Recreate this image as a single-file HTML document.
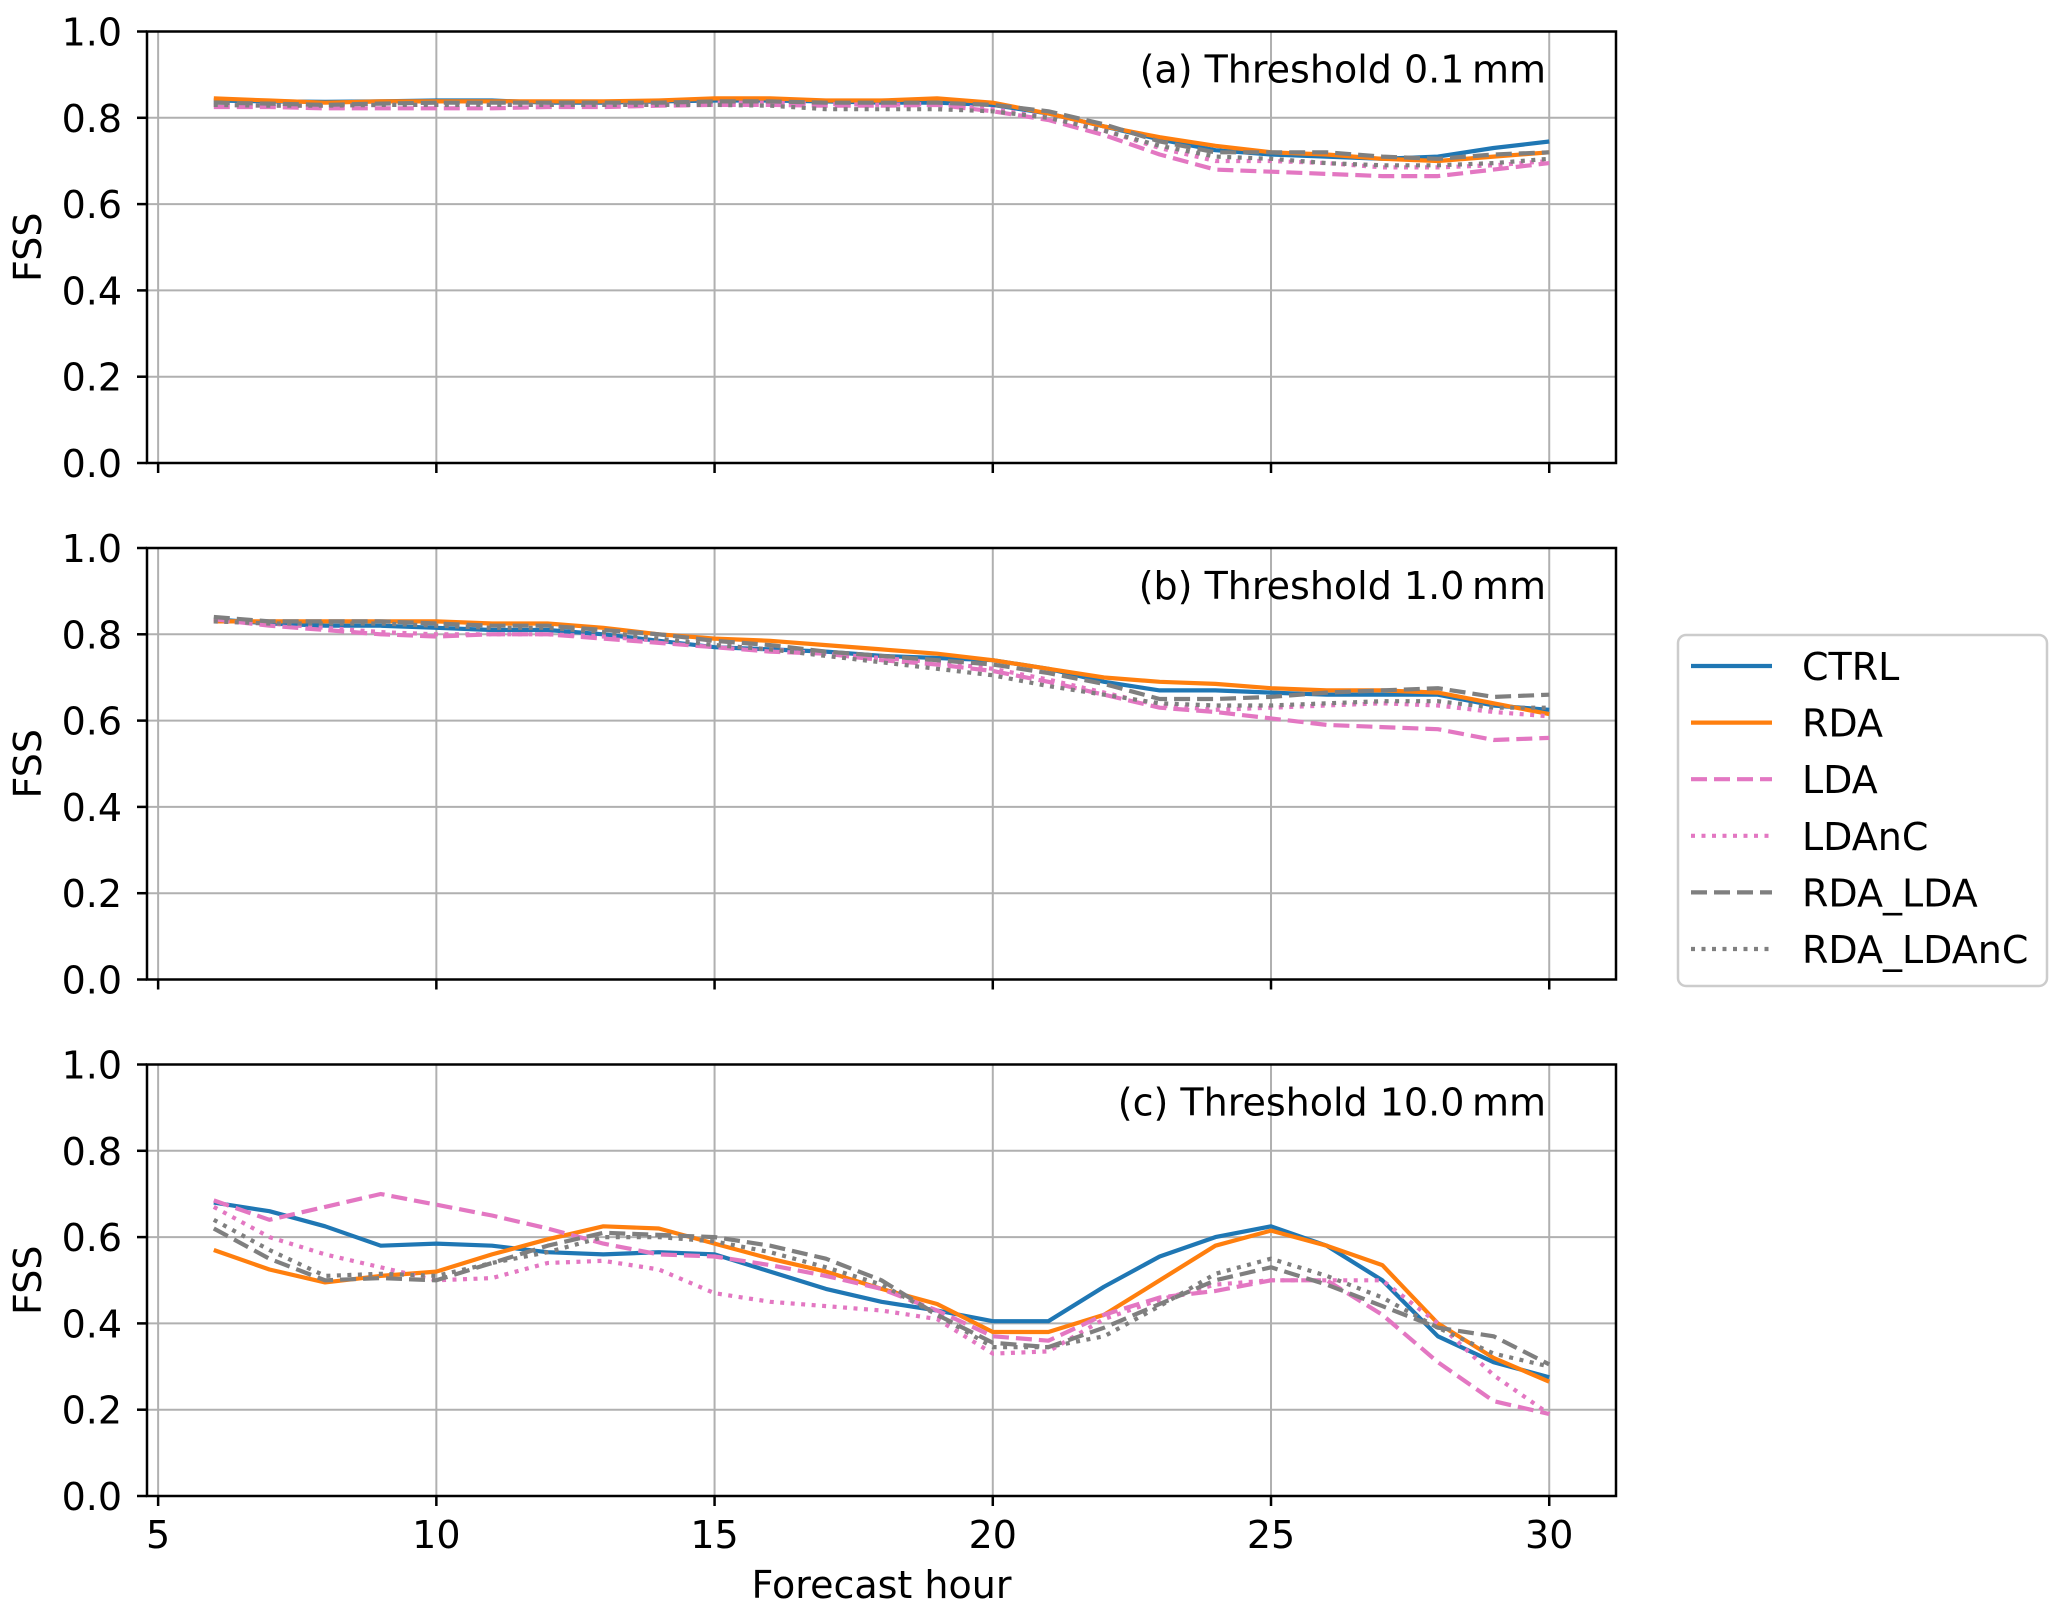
<!DOCTYPE html>
<html><head><meta charset="utf-8"><style>
html,body{margin:0;padding:0;background:#fff;}
svg{display:block;font-family:"DejaVu Sans","Liberation Sans",sans-serif;}
</style></head><body>
<svg id="chart" width="2067" height="1616" viewBox="0 0 2067 1616" xmlns="http://www.w3.org/2000/svg">
</svg>
<script>
const hours = [6,7,8,9,10,11,12,13,14,15,16,17,18,19,20,21,22,23,24,25,26,27,28,29,30];
const seriesNames = ["CTRL","RDA","LDA","LDAnC","RDA_LDA","RDA_LDAnC"];
const panelTitles = ["(a) Threshold 0.1\u2009mm","(b) Threshold 1.0\u2009mm","(c) Threshold 10.0\u2009mm"];
const yTicks = [0,0.2,0.4,0.6,0.8,1.0];
const yTickLabels = ["0.0","0.2","0.4","0.6","0.8","1.0"];
const xTicks = [5,10,15,20,25,30];
const xTickLabels = ["5","10","15","20","25","30"];

const aCTRL = [.84,.838,.837,.838,.84,.84,.835,.835,.838,.84,.84,.838,.835,.835,.83,.81,.78,.75,.725,.715,.71,.705,.71,.73,.745];
const aRDA = [.845,.84,.835,.838,.838,.838,.838,.838,.84,.845,.845,.84,.84,.845,.835,.81,.78,.755,.735,.72,.715,.705,.7,.71,.72];
const aLDA = [.825,.825,.822,.822,.822,.822,.825,.825,.828,.83,.83,.828,.828,.83,.815,.795,.76,.715,.68,.675,.67,.665,.665,.68,.695];
const aLDAnC = [.83,.828,.828,.83,.83,.83,.83,.83,.83,.835,.835,.832,.83,.832,.82,.8,.77,.73,.7,.7,.695,.685,.685,.69,.7];
const aRDA_LDA = [.835,.833,.83,.833,.835,.835,.835,.835,.835,.838,.838,.835,.835,.835,.83,.815,.785,.745,.72,.72,.72,.71,.705,.715,.72];
const aRDA_LDAnC = [.83,.828,.828,.83,.83,.83,.83,.83,.83,.83,.828,.82,.82,.82,.815,.8,.77,.735,.71,.705,.695,.69,.69,.695,.705];

const bCTRL = [.835,.825,.82,.82,.815,.81,.81,.8,.785,.77,.765,.76,.75,.745,.74,.72,.69,.67,.67,.665,.66,.66,.66,.635,.625];
const bRDA = [.83,.83,.83,.83,.83,.825,.825,.815,.8,.79,.785,.775,.765,.755,.74,.72,.7,.69,.685,.675,.67,.67,.665,.64,.615];
const bLDA = [.835,.82,.81,.8,.795,.8,.8,.79,.78,.77,.76,.755,.74,.73,.715,.69,.66,.63,.62,.605,.59,.585,.58,.555,.56];
const bLDAnC = [.83,.825,.815,.805,.8,.8,.8,.795,.785,.775,.765,.755,.745,.735,.72,.695,.665,.635,.625,.63,.635,.64,.635,.62,.61];
const bRDA_LDA = [.84,.83,.83,.83,.825,.82,.82,.81,.8,.785,.775,.76,.75,.74,.73,.71,.685,.65,.65,.655,.665,.67,.675,.655,.66];
const bRDA_LDAnC = [.83,.825,.825,.825,.82,.815,.815,.805,.79,.775,.765,.75,.735,.72,.705,.68,.66,.64,.635,.635,.64,.645,.645,.63,.63];

const cCTRL = [.68,.66,.625,.58,.585,.58,.565,.56,.565,.56,.52,.48,.45,.43,.405,.405,.485,.555,.6,.625,.58,.5,.37,.31,.275];
const cRDA = [.57,.525,.495,.51,.52,.56,.595,.625,.62,.585,.55,.52,.48,.445,.38,.38,.42,.5,.58,.615,.58,.535,.4,.32,.265];
const cLDA = [.685,.64,.67,.7,.675,.65,.62,.585,.56,.555,.535,.51,.48,.43,.37,.36,.42,.46,.475,.5,.5,.42,.31,.22,.19];
const cLDAnC = [.67,.6,.56,.53,.5,.505,.54,.545,.525,.47,.45,.44,.43,.41,.33,.335,.41,.455,.49,.5,.5,.5,.4,.28,.19];
const cRDA_LDA = [.62,.55,.5,.505,.5,.54,.58,.61,.605,.6,.58,.55,.5,.42,.355,.345,.39,.445,.5,.53,.49,.44,.39,.37,.305];
const cRDA_LDAnC = [.64,.57,.51,.515,.51,.54,.565,.6,.6,.59,.565,.53,.49,.42,.345,.345,.37,.44,.515,.55,.51,.46,.39,.33,.3];

const panelData = [
  [aCTRL,aRDA,aLDA,aLDAnC,aRDA_LDA,aRDA_LDAnC],
  [bCTRL,bRDA,bLDA,bLDAnC,bRDA_LDA,bRDA_LDAnC],
  [cCTRL,cRDA,cLDA,cLDAnC,cRDA_LDA,cRDA_LDAnC]
];

const styles = [
  {c:"#1f77b4",d:""},
  {c:"#ff7f0e",d:""},
  {c:"#e377c2",d:"16 7"},
  {c:"#e377c2",d:"4 6.5"},
  {c:"#7f7f7f",d:"16 7"},
  {c:"#7f7f7f",d:"4 6.5"}
];

const svg = document.getElementById('chart');
const NS = "http://www.w3.org/2000/svg";
function mk(tag, attrs, parent){
  const e = document.createElementNS(NS, tag);
  for (const k in attrs) e.setAttribute(k, attrs[k]);
  (parent||svg).appendChild(e);
  return e;
}
const L = 147, R = 1616, X0 = 4.8, X1 = 31.2;
const PH = 431.5, tops = [31.5, 548, 1064.5];
function xs(v){ return L + (v - X0) / (X1 - X0) * (R - L); }
const FS = 38;

tops.forEach((top, p) => {
  const bot = top + PH;
  function ys(v){ return bot - v * PH; }
  const g = mk('g', {});
  
  
  xTicks.forEach(t => {
    const l = mk('line', {x1:xs(t),x2:xs(t),y1:top,y2:bot,stroke:"#b0b0b0","stroke-width":2}, g);
    
    
  });
  yTicks.forEach((t, i) => {
    const l = mk('line', {x1:L,x2:R,y1:ys(t),y2:ys(t),stroke:"#b0b0b0","stroke-width":2}, g);
    
    
    const tk = mk('line', {x1:L-10,x2:L,y1:ys(t),y2:ys(t),stroke:"#000","stroke-width":2.5}, g);
    
    
    const tx = mk('text', {x:122,y:ys(t)+14,"text-anchor":"end","font-size":FS,fill:"#000"}, g);
    tx.textContent = yTickLabels[i];
    
    
  });
  xTicks.forEach((t, i) => {
    const tk = mk('line', {x1:xs(t),x2:xs(t),y1:bot,y2:bot+10,stroke:"#000","stroke-width":2.5}, g);
    
    
    if (p === 2) {
      const tx = mk('text', {x:xs(t),y:bot+52,"text-anchor":"middle","font-size":FS,fill:"#000"}, g);
      tx.textContent = xTickLabels[i];
      
      
    }
  });
  panelData[p].forEach((arr, s) => {
    const pts = arr.map((v, i) => xs(hours[i]).toFixed(1) + "," + ys(v).toFixed(1)).join(" ");
    const a = {points:pts,fill:"none",stroke:styles[s].c,"stroke-width":4.2,"stroke-linejoin":"round"};
    if (styles[s].d) a["stroke-dasharray"] = styles[s].d;
    const pl = mk('polyline', a, g);
    
    
  });
  const fr = mk('rect', {x:L,y:top,width:R-L,height:PH,fill:"none",stroke:"#000","stroke-width":2.5}, g);
  
  
  const ti = mk('text', {x:1546,y:top+51,"text-anchor":"end","font-size":FS,fill:"#000"}, g);
  ti.textContent = panelTitles[p];
  
  
  const yl = mk('text', {x:0,y:0,"text-anchor":"middle","font-size":FS,fill:"#000",transform:"translate(41," + (top+PH/2) + ") rotate(-90)"}, g);
  yl.textContent = "FSS";
  
  
});

const xl = mk('text', {x:(L+R)/2,y:1598,"text-anchor":"middle","font-size":FS,fill:"#000"});
xl.textContent = "Forecast hour";



const lg = mk('g', {});


const lb = mk('rect', {x:1678,y:635,width:369,height:351,rx:8,fill:"#fff",stroke:"#cccccc","stroke-width":2.5}, lg);


seriesNames.forEach((n, s) => {
  const y = 666 + s * 56.6;
  const a = {x1:1691,x2:1772,y1:y,y2:y,stroke:styles[s].c,"stroke-width":4.2};
  if (styles[s].d) a["stroke-dasharray"] = styles[s].d;
  const ln = mk('line', a, lg);
  
  
  const t = mk('text', {x:1802,y:y+14,"font-size":FS,fill:"#000"}, lg);
  t.textContent = n;
  
  
});
</script>
</body></html>
